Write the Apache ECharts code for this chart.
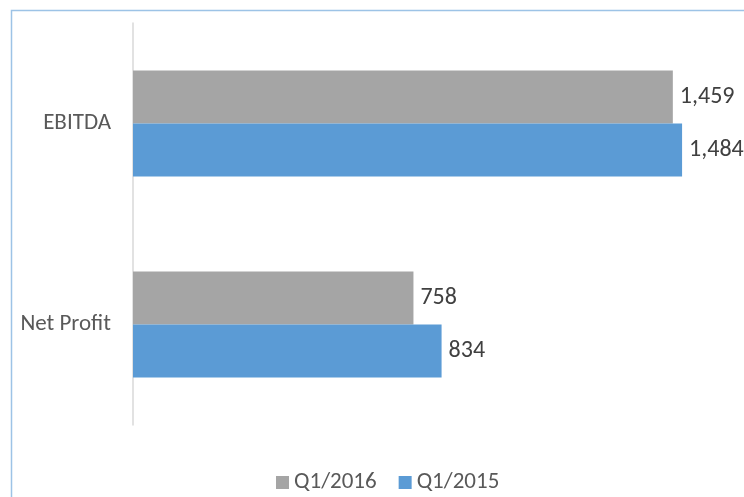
<!DOCTYPE html>
<html>
<head>
<meta charset="utf-8">
<script src="https://cdn.jsdelivr.net/npm/echarts@6/dist/echarts.min.js"></script>
<style>
  html, body { margin: 0; padding: 0; background: #fff; }
  #chart { width: 744px; height: 497px; }
</style>
</head>
<body>
<div id="chart"></div>
<script>
// 数据
const categories = ['EBITDA', 'Net Profit'];
const q12016 = [1459, 758];
const q12015 = [1484, 834];

const fontFamily = 'Carlito, Calibri, "Open Sans", sans-serif';
const fmt = (v) => v.toLocaleString('en-US');

const myChart = echarts.init(document.getElementById('chart'));

myChart.setOption({
  animation: false,
  textStyle: { fontFamily },
  // 外框
  graphic: [{
    type: 'rect',
    shape: { x: 11.5, y: 10.5, width: 900, height: 600 },
    style: { fill: 'none', stroke: '#9dc3e6', lineWidth: 1.5 },
    silent: true
  }],
  grid: { left: 133, top: 23, width: 592, height: 402 },
  legend: {
    top: 466,
    left: 271,
    itemWidth: 13,
    itemHeight: 13,
    itemGap: 22,
    icon: 'rect',
    textStyle: { fontSize: 23, color: '#595959', fontFamily },
    data: ['Q1/2016', 'Q1/2015']
  },
  xAxis: {
    type: 'value',
    min: 0,
    max: 1600,
    show: false
  },
  yAxis: {
    type: 'category',
    data: categories,
    inverse: true,
    axisLine: { lineStyle: { color: '#d9d9d9', width: 1.5 } },
    axisTick: { show: false },
    axisLabel: { fontSize: 23, color: '#595959', margin: 22, fontFamily }
  },
  series: [
    {
      name: 'Q1/2016',
      type: 'bar',
      data: q12016,
      barWidth: 53,
      barGap: '0%',
      itemStyle: { color: '#a5a5a5' },
      label: {
        show: true,
        position: 'right',
        distance: 7,
        fontSize: 24,
        color: '#404040',
        fontFamily,
        formatter: (p) => fmt(p.value)
      }
    },
    {
      name: 'Q1/2015',
      type: 'bar',
      data: q12015,
      barWidth: 53,
      barGap: '0%',
      itemStyle: { color: '#5b9bd5' },
      label: {
        show: true,
        position: 'right',
        distance: 7,
        fontSize: 24,
        color: '#404040',
        fontFamily,
        formatter: (p) => fmt(p.value)
      }
    }
  ]
});
</script>
</body>
</html>
